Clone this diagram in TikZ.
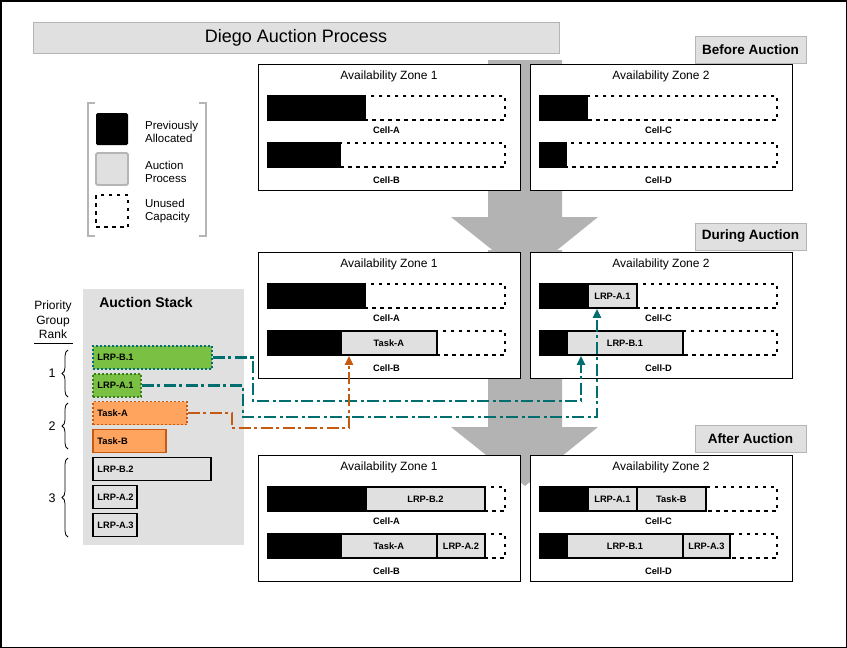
\documentclass[tikz,border=0pt]{standalone}
\usepackage{fontspec}
\setmainfont{Liberation Sans}
\usepackage{tikz}
\usetikzlibrary{arrows.meta,positioning,decorations.pathreplacing}

\definecolor{panelgray}{HTML}{E0E0E0}
\definecolor{rimgray}{HTML}{B5B5B5}
\definecolor{arrowgray}{HTML}{B3B3B3}
\definecolor{lrpgreen}{HTML}{7AC143}
\definecolor{taskorange}{HTML}{FFA45F}
\definecolor{linkteal}{HTML}{006E6E}
\definecolor{linkorange}{HTML}{C55A11}
\definecolor{dotgreen}{HTML}{3A7D1E}

\begin{document}
\begin{tikzpicture}[x=1pt,y=-1pt,>={Triangle[width=8pt,length=9pt]},
    zone/.style={draw,line width=1.3pt,fill=white,anchor=north west,inner sep=0pt,minimum width=262,minimum height=126},
    zone title/.style={font=\fontsize{12}{14}\selectfont},
    cell name/.style={font=\fontsize{9.3}{11}\selectfont\bfseries},
    unused/.style={line width=1.8pt,dash pattern=on 3.5pt off 4.5pt},
    alloc/.style={fill=black,draw=black,line width=1.8pt},
    seg/.style={draw,fill=panelgray,line width=1.8pt,anchor=west,inner sep=0pt,minimum height=24,font=\fontsize{9.3}{11}\selectfont\bfseries},
    stage/.style={draw=rimgray,fill=panelgray,line width=1pt,minimum width=111,minimum height=27,font=\fontsize{13.5}{16}\selectfont\bfseries},
    bid/.style={anchor=west,inner xsep=4.5pt,inner ysep=0pt,minimum height=23,text width=#1,align=left,line width=1.8pt,
      execute at begin node={\exhyphenpenalty=10000\hbadness=10000\hfuzz=20pt},font=\fontsize{9.3}{11}\selectfont\bfseries},
    dots/.style={dash pattern=on 2pt off 2pt},
    swatch/.style={minimum size=32,inner sep=0pt,rounded corners=1.5pt,line width=1.8pt},
    key text/.style={align=left,inner sep=0pt,font=\fontsize{11.5}{13.5}\selectfont},
    bracket/.style={rimgray,line width=2pt},
    brace/.style={decorate,decoration={brace,amplitude=6pt},line width=0.8pt},
    link/.style={->,line width=2.1pt,dash pattern=on 12pt off 3.5pt on 3pt off 3.5pt},
  ]
  \useasboundingbox (0,0) rectangle (847,648);
  \draw[line width=1.5pt] (0.75,0.75) rectangle (846.25,647.25);

  % title
  \node[draw=rimgray,fill=panelgray,line width=1pt,minimum width=526,minimum height=31,font=\fontsize{18}{21}\selectfont] (title) at (296,37.5) {Diego Auction Process};

  % big arrows between the stages
  \fill[arrowgray] (488,60) -- (562,60) -- (562,217) -- (598,217) -- (525,276) -- (451,217) -- (488,217) -- cycle;
  \fill[arrowgray] (488,250) -- (562,250) -- (562,427) -- (598,427) -- (525,486) -- (451,427) -- (488,427) -- cycle;

  % stage tags
  \node[stage] (before) at (750.5,50) {Before Auction};
  \node[stage] (during) at (750.5,236.5) {During Auction};
  \node[stage] (after) at (750.5,438.5) {After Auction};

  % zones, cells and what is already allocated
  \foreach \t/\s in {64/b,252/d,455/a} {
    \node[zone] (zone1\s) at (258,\t) {};
    \node[zone] (zone2\s) at (530,\t) {};
    \node[zone title] (title1\s) at (389,\t+12.5) {Availability Zone 1};
    \node[zone title] (title2\s) at (661,\t+12.5) {Availability Zone 2};
    \draw[unused] (268,\t+32) rectangle (505,\t+56);
    \draw[unused] (268,\t+79) rectangle (505,\t+103);
    \draw[unused] (540,\t+32) rectangle (777,\t+56);
    \draw[unused] (540,\t+79) rectangle (777,\t+103);
    \filldraw[alloc] (268,\t+32) rectangle (365,\t+56);
    \filldraw[alloc] (268,\t+79) rectangle (340,\t+103);
    \filldraw[alloc] (540,\t+32) rectangle (587,\t+56);
    \filldraw[alloc] (540,\t+79) rectangle (566,\t+103);
    \node[cell name] (cellA\s) at (386.5,\t+66) {Cell-A};
    \node[cell name] (cellB\s) at (386.5,\t+116) {Cell-B};
    \node[cell name] (cellC\s) at (658.5,\t+66) {Cell-C};
    \node[cell name] (cellD\s) at (658.5,\t+116) {Cell-D};
  }

  % during auction
  \node[seg,minimum width=96] (dTaskA) at (340,343) {Task-A};
  \node[seg,minimum width=49] (dLrpA1) at (587,296) {LRP-A.1};
  \node[seg,minimum width=116] (dLrpB1) at (566,343) {LRP-B.1};

  % after auction
  \node[seg,minimum width=119] (aLrpB2) at (365,499) {LRP-B.2};
  \node[seg,minimum width=96] (aTaskA) at (340,546) {Task-A};
  \node[seg,minimum width=48] (aLrpA2) at (436,546) {LRP-A.2};
  \node[seg,minimum width=49] (aLrpA1) at (587,499) {LRP-A.1};
  \node[seg,minimum width=69] (aTaskB) at (636,499) {Task-B};
  \node[seg,minimum width=116] (aLrpB1) at (566,546) {LRP-B.1};
  \node[seg,minimum width=47] (aLrpA3) at (682,546) {LRP-A.3};

  % legend
  \draw[bracket] (95,103) -- (88,103) -- (88,236) -- (95,236);
  \draw[bracket] (199,103) -- (206,103) -- (206,236) -- (199,236);
  \node[swatch,fill=black] (kAlloc) at (112,129) {};
  \node[swatch,fill=panelgray,draw=rimgray] (kAuction) at (112,169) {};
  \node[swatch,draw=black,dash pattern=on 3.5pt off 4.5pt,rounded corners=0pt] (kUnused) at (112,211) {};
  \node[key text,right=16pt of kAlloc,yshift=-3pt] (tAlloc) {Previously\\Allocated};
  \node[key text,right=16pt of kAuction,yshift=-3pt] (tAuction) {Auction\\Process};
  \node[key text,right=16pt of kUnused] (tUnused) {Unused\\Capacity};

  % auction stack
  \fill[panelgray] (83,289) rectangle (244,545);
  \node[font=\fontsize{14}{16}\selectfont\bfseries] (stackhead) at (146,302) {Auction Stack};
  \node[bid=110,fill=lrpgreen,draw=linkteal,dots] (sLrpB1) at (92,357.5) {LRP-B.1};
  \node[bid=39,fill=lrpgreen,draw=dotgreen,dots] (sLrpA1) at (92,385.5) {LRP-A.1};
  \node[bid=85,fill=taskorange,draw=linkorange,dots] (sTaskA) at (92,413) {Task-A};
  \node[bid=64,fill=taskorange,draw=linkorange] (sTaskB) at (92,441) {Task-B};
  \node[bid=109,fill=panelgray,draw=black] (sLrpB2) at (92,469) {LRP-B.2};
  \node[bid=35,fill=panelgray,draw=black] (sLrpA2) at (92,497) {LRP-A.2};
  \node[bid=35,fill=panelgray,draw=black] (sLrpA3) at (92,525) {LRP-A.3};

  % priority groups
  \node[align=center,font=\fontsize{12}{14.5}\selectfont] (rank) at (53,320) {Priority\\Group\\Rank};
  \draw[line width=0.8pt] (34,343) -- (73,343);
  \draw[brace] (68,397) -- (68,350);
  \draw[brace] (68,449) -- (68,403);
  \draw[brace] (68,537) -- (68,458);
  \node[font=\fontsize{12.5}{14}\selectfont] (group1) at (52,373.5) {1};
  \node[font=\fontsize{12.5}{14}\selectfont] (group2) at (52,426) {2};
  \node[font=\fontsize{12.5}{14}\selectfont] (group3) at (52,498) {3};

  % where the bids go
  \coordinate (bendB1) at (253,401);
  \coordinate (bendA1) at (243,417);
  \coordinate (bendTA) at (232,428);
  \draw[link,linkteal] (sLrpB1.east) -| (bendB1) -| ([xshift=15pt]dLrpB1.south west);
  \draw[link,linkteal] (sLrpA1.east) -| (bendA1) -| ([xshift=10pt]dLrpA1.south west);
  \draw[link,linkorange] (sTaskA.east) -| (bendTA) -| ([xshift=9pt]dTaskA.south west);
\end{tikzpicture}
\end{document}
